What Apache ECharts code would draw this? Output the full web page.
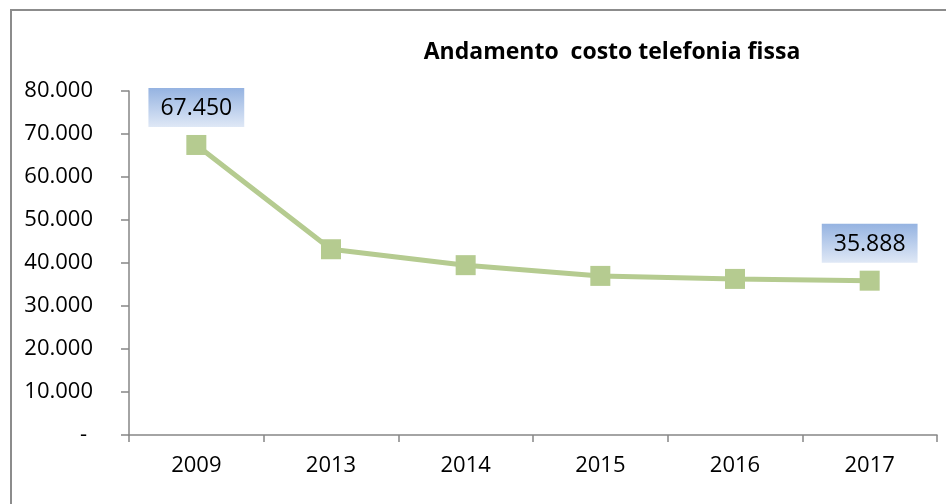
<!DOCTYPE html>
<html><head><meta charset="utf-8">
<script src="https://cdn.jsdelivr.net/npm/echarts@6/dist/echarts.min.js"></script>
<style>html,body{margin:0;padding:0;background:#fff}#c{width:946px;height:504px}</style>
</head><body><div id="c"></div>
<script>
const categories = ['2009','2013','2014','2015','2016','2017'];
const values = [67450, 43200, 39500, 37000, 36300, 35888];
const labelled = [0, 5];
const titleText = 'Andamento  costo telefonia fissa';

const FONT = '"Open Sans", sans-serif';
function fmt(v){ return String(Math.round(v)).replace(/\B(?=(\d{3})+(?!\d))/g,'.'); }

const boxGrad = {type:'linear',x:0,y:0,x2:0,y2:1,colorStops:[{offset:0,color:'#95b3e1'},{offset:1,color:'#dfe8f6'}]};
const seriesData = values.map((v,i)=>{
  const d = {value:v};
  if (labelled.includes(i)) {
    d.label = {show:true, position:'top', distance:8, formatter:p=>fmt(p.value),
      fontFamily:FONT, fontSize:23, color:'#000', backgroundColor:boxGrad, padding:[9,12,7,12]};
  }
  return d;
});

const chart = echarts.init(document.getElementById('c'));
chart.setOption({
  animation:false,
  backgroundColor:'#fff',
  title:{text:titleText, left:607, top:36, textAlign:'center',
    textStyle:{fontFamily:FONT, fontSize:23, fontWeight:'bold', color:'#000'}},
  graphic:[{type:'rect', shape:{x:11,y:10,width:960,height:520}, style:{fill:null, stroke:'#8c8c8c', lineWidth:2}, silent:true}],
  grid:{left:129, right:9, top:91, bottom:69, containLabel:false},
  xAxis:{type:'category', data:categories, boundaryGap:true,
    axisLine:{lineStyle:{color:'#868686', width:1.5}},
    axisTick:{show:true, length:7, alignWithLabel:false, lineStyle:{color:'#868686', width:1.5}},
    axisLabel:{fontFamily:FONT, fontSize:22, color:'#000', margin:20},
    splitLine:{show:false}},
  yAxis:{type:'value', min:0, max:80000, interval:10000,
    axisLine:{show:true, lineStyle:{color:'#868686', width:1.5}},
    axisTick:{show:true, length:8, lineStyle:{color:'#868686', width:1.5}},
    axisLabel:{fontFamily:FONT, fontSize:22, color:'#000', margin:36,
      formatter:v=> v===0 ? '{z|-}' : fmt(v),
      rich:{z:{fontFamily:FONT, fontSize:22, color:'#000', padding:[0,6,0,0]}}},
    splitLine:{show:false}},
  series:[{type:'line', data:seriesData, symbol:'rect', symbolSize:20,
    lineStyle:{color:'#b5cb90', width:5},
    itemStyle:{color:'#b5cb90'},
    label:{show:false}}]
});
</script></body></html>
